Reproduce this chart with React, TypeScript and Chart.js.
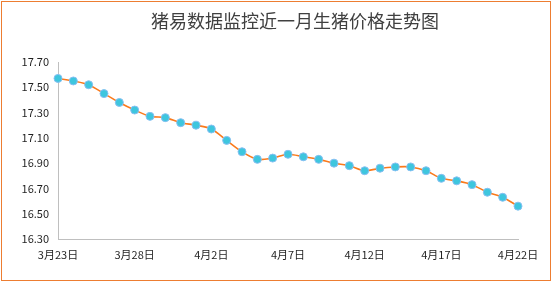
import React, { useEffect, useRef } from "react";
import { Chart, registerables } from "chart.js";

Chart.register(...registerables);

const TITLE = "猪易数据监控近一月生猪价格走势图";

const dates: string[] = [
  "3月23日", "3月24日", "3月25日", "3月26日", "3月27日", "3月28日", "3月29日", "3月30日",
  "3月31日", "4月1日", "4月2日", "4月3日", "4月4日", "4月5日", "4月6日", "4月7日",
  "4月8日", "4月9日", "4月10日", "4月11日", "4月12日", "4月13日", "4月14日", "4月15日",
  "4月16日", "4月17日", "4月18日", "4月19日", "4月20日", "4月21日", "4月22日",
];

const prices: number[] = [
  17.57, 17.55, 17.52, 17.45, 17.38, 17.32, 17.27, 17.26,
  17.22, 17.2, 17.17, 17.08, 16.99, 16.93, 16.94, 16.97,
  16.95, 16.93, 16.9, 16.88, 16.84, 16.86, 16.87, 16.87,
  16.84, 16.78, 16.76, 16.73, 16.67, 16.63, 16.56,
];

const yMin = 16.3;
const yMax = 17.7;
const yStep = 0.2;

const FONT = "'Noto Sans CJK SC', 'Noto Sans', sans-serif";

export default function App() {
  const ref = useRef<HTMLCanvasElement | null>(null);

  useEffect(() => {
    if (!ref.current) return;
    const titlePlugin = {
      id: "customTitle",
      afterDraw(chart: any) {
        const ctx = chart.ctx;
        ctx.save();
        ctx.font = `18px ${FONT}`;
        ctx.fillStyle = "#404040";
        ctx.textAlign = "center";
        ctx.textBaseline = "middle";
        ctx.fillText(TITLE, 295, 21);
        ctx.restore();
      },
    };
    const chart = new Chart(ref.current, {
      type: "line",
      data: {
        labels: dates,
        datasets: [
          {
            data: prices,
            borderColor: "#FA7A1C",
            borderWidth: 1.6,
            tension: 0.3,
            pointRadius: 4,
            pointBackgroundColor: "#3EC6DE",
            pointBorderColor: "#86BFF2",
            pointBorderWidth: 1,
            fill: false,
          },
        ],
      },
      options: {
        animation: false,
        responsive: false,
        devicePixelRatio: 1,
        layout: { padding: { top: 62, right: 37, bottom: 0, left: 0 } },
        plugins: {
          legend: { display: false },
          title: { display: false },
          tooltip: { enabled: false },
        },
        scales: {
          x: {
            offset: false,
            grid: { display: false, drawTicks: false },
            border: { display: true, color: "#BFBFBF", width: 1 },
            ticks: {
              autoSkip: false,
              maxRotation: 0,
              padding: 9,
              color: "#1F1F1F",
              font: { family: FONT, size: 11 },
              callback: (_v: any, i: number) => (i % 5 === 0 ? dates[i] : ""),
            },
            afterFit: (s: any) => {
              s.height = 43;
            },
          },
          y: {
            min: yMin,
            max: yMax,
            grid: { display: false, drawTicks: false },
            border: { display: true, color: "#BFBFBF", width: 1 },
            ticks: {
              stepSize: yStep,
              padding: 9,
              color: "#1F1F1F",
              font: { family: FONT, size: 11 },
              callback: (v: any) => Number(v).toFixed(2),
            },
            afterFit: (s: any) => {
              s.width = 58;
            },
          },
        },
      },
      plugins: [titlePlugin],
    });
    return () => chart.destroy();
  }, []);

  return (
    <div style={{ position: "absolute", left: 0, top: 0, width: 555, height: 282, background: "#fff" }}>
      <canvas ref={ref} width={555} height={282} style={{ display: "block" }} />
      <div
        style={{
          position: "absolute",
          left: 1,
          top: 1,
          width: 550,
          height: 280,
          boxSizing: "border-box",
          border: "1px solid #ED7D31",
          pointerEvents: "none",
        }}
      />
    </div>
  );
}
